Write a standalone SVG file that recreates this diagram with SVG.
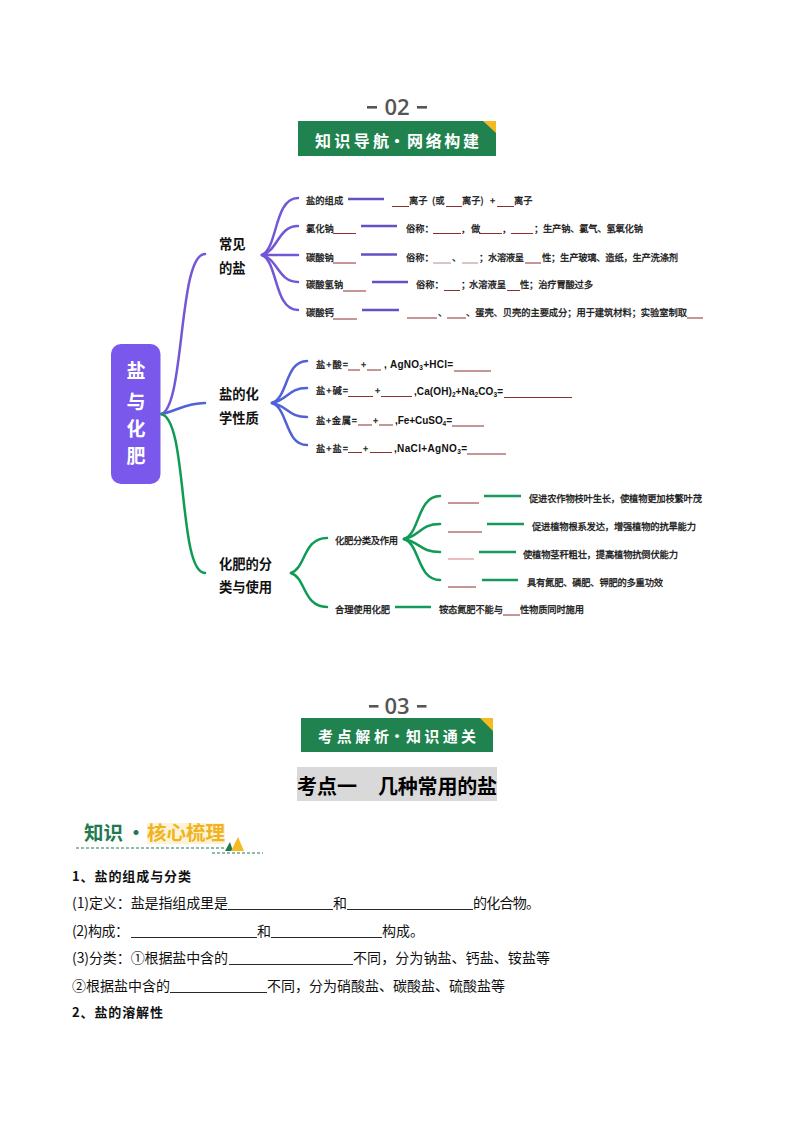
<svg xmlns="http://www.w3.org/2000/svg" width="794" height="1123" viewBox="0 0 794 1123">
<style>
text{font-family:"Noto Sans CJK SC","Liberation Sans",sans-serif;fill:#222}
.s{font-size:9.300px;fill:#111;stroke:#111;stroke-width:.28}
.f{font-family:"Liberation Sans","Noto Sans CJK SC",sans-serif;font-size:10px;font-weight:700;fill:#111}
.h{font-size:13.300px;font-weight:700;fill:#111}
.b{font-size:14px;fill:#111}
.bb{font-size:13px;font-weight:700;fill:#111}
.hd{font-size:16px;font-weight:700;fill:#fff}
.no{font-family:"Open Sans","Liberation Sans",sans-serif;font-size:22px;font-weight:600;fill:#555}
.u{stroke:#8b2f2f;stroke-width:1;fill:none}
.k{stroke:#111;stroke-width:.9;fill:none}
.pu{stroke:#7357d6;stroke-width:2.500;fill:none;stroke-linecap:round}
.bl{stroke:#4f62d8;stroke-width:2.500;fill:none;stroke-linecap:round}
.gr{stroke:#0f9a55;stroke-width:2.500;fill:none;stroke-linecap:round}
.ln1{stroke:#6650c8;stroke-width:2.600;fill:none}
.ln2{stroke:#169a5c;stroke-width:2.600;fill:none}
</style>

<g id="header-02">
<rect x="367" y="106" width="10" height="2.600" fill="#555"/>
<rect x="417" y="106" width="10" height="2.600" fill="#555"/>
<text class="no" x="397" y="114.500" text-anchor="middle">02</text>
<rect x="298" y="121" width="198" height="35" fill="#20824f"/>
<polygon points="483,121 496,121 496,133" fill="#f5b921"/>
<text class="hd" x="315" y="146.500" textLength="74">知识导航</text>
<text class="hd" x="397" y="146.500" text-anchor="middle">·</text>
<text class="hd" x="407" y="146.500" textLength="72">网络构建</text>
</g>

<g id="connectors">
<path class="pu" d="M161,414C185,408 178,254 205,254"/>
<path class="bl" d="M161,414C175,412 185,403 205,403"/>
<path class="gr" d="M161,414C188,418 178,573 205,573"/>
<path class="pu" d="M262,255C278,248 274,198 298,198"/>
<path class="pu" d="M262,255C278,251 278,226 298,226"/>
<path class="pu" d="M262,255H298"/>
<path class="pu" d="M262,255C278,259 278,282 298,282"/>
<path class="pu" d="M262,255C278,262 274,310 298,310"/>
<path class="bl" d="M272,403C288,398 285,361 307,361"/>
<path class="bl" d="M272,403C288,400 288,388 307,388"/>
<path class="bl" d="M272,403C288,406 288,417 307,417"/>
<path class="bl" d="M272,403C288,408 285,445 307,445"/>
<path class="gr" d="M291,573C306,568 303,538 327,538"/>
<path class="gr" d="M291,573C306,578 303,607 327,607"/>
<path class="gr" d="M404,539C420,534 417,496 440,496"/>
<path class="gr" d="M404,539C420,536 420,524 440,524"/>
<path class="gr" d="M404,539C420,542 420,552 440,552"/>
<path class="gr" d="M404,539C420,544 417,580 440,580"/>
<path class="ln1" d="M348,199H384M361,226H397M361,254.500H397M372,282H408M362,310H399"/>
<path class="ln2" d="M484,496H521M487,524H524M479,552H516M482,580H518M395,607H431"/>
</g>

<g id="root">
<rect x="111" y="344" width="49.500" height="140" rx="10" fill="#7a58ec"/>
<g font-size="19" font-weight="700" text-anchor="middle">
<text x="136" y="378" style="fill:#fff">盐</text>
<text x="136" y="409" style="fill:#fff">与</text>
<text x="136" y="436" style="fill:#fff">化</text>
<text x="136" y="463" style="fill:#fff">肥</text>
</g>
</g>

<g id="node-salts">
<text class="h" x="219" y="249">常见</text>
<text class="h" x="219" y="273">的盐</text>
</g>
<g id="salt-rows">
<text class="s" x="306" y="204">盐的组成</text>
<text class="s" x="409" y="204">离子</text>
<text class="s" x="432" y="204">(或</text>
<text class="s" x="462" y="204">离子)</text>
<text class="s" x="490" y="204">+</text>
<text class="s" x="514" y="204">离子</text>
<path class="u" d="M392,206.500H409M446,206.500H462M497,206.500H514"/>

<text class="s" x="306" y="232">氯化钠</text>
<text class="s" x="406" y="232">俗称：</text>
<text class="s" x="462" y="232">,</text>
<text class="s" x="471" y="232">做</text>
<text class="s" x="503" y="232">,</text>
<text class="s" x="534" y="232">；</text>
<text class="s" x="543" y="232" textLength="100">生产钠、氯气、氢氧化钠</text>
<path class="u" d="M333,233.500H356M433,233.500H461M479,233.500H502M511,233.500H533"/>

<text class="s" x="306" y="260.500">碳酸钠</text>
<text class="s" x="406" y="260.500">俗称：</text>
<text class="s" x="452" y="260.500">、</text>
<text class="s" x="479" y="260.500">；</text>
<text class="s" x="488" y="260.500" textLength="36">水溶液呈</text>
<text class="s" x="542" y="260.500" textLength="136">性；生产玻璃、造纸，生产洗涤剂</text>
<path class="u" d="M333,263H356M525,263H541"/>
<path d="M433,263H451M462,263H478" stroke="#b98a8a" fill="none"/>

<text class="s" x="306" y="288">碳酸氢钠</text>
<text class="s" x="416" y="288">俗称：</text>
<text class="s" x="461" y="288">；</text>
<text class="s" x="469" y="288" textLength="37">水溶液呈</text>
<text class="s" x="520" y="288" textLength="73">性；治疗胃酸过多</text>
<path class="u" d="M343,291H366M444,290.500H460M507,290.500H520"/>

<text class="s" x="306" y="316">碳酸钙</text>
<text class="s" x="438" y="316">、</text>
<text class="s" x="466" y="316" textLength="221">、蛋壳、贝壳的主要成分；用于建筑材料；实验室制取</text>
<path class="u" d="M333,319H357M407,318H437M447,318H466M687,318H703"/>
</g>

<g id="node-properties">
<text class="h" x="219" y="399">盐的化</text>
<text class="h" x="219" y="423">学性质</text>
</g>
<g id="property-rows">
<text class="s" x="316" y="367.500" textLength="32">盐+酸=</text>
<text class="s" x="361" y="367.500">+</text>
<text class="f" x="384" y="367.500">,</text>
<text class="f" x="390" y="368" textLength="63">AgNO<tspan font-size="6.500" dy="2">3</tspan><tspan dy="-2">+HCl=</tspan></text>
<path class="u" d="M348,370H360M367,370H381M454,371H491"/>

<text class="s" x="316" y="394" textLength="32">盐+碱=</text>
<text class="s" x="375" y="394">+</text>
<text class="f" x="414" y="394.500" textLength="89">,Ca(OH)<tspan font-size="6.500" dy="2">2</tspan><tspan dy="-2">+Na</tspan><tspan font-size="6.500" dy="2">2</tspan><tspan dy="-2">CO</tspan><tspan font-size="6.500" dy="2">3</tspan><tspan dy="-2">=</tspan></text>
<path class="u" d="M348,396.500H373M381,396.500H412M504,397.500H572"/>

<text class="s" x="316" y="423.500" textLength="41">盐+金属=</text>
<text class="s" x="373" y="423.500">+</text>
<text class="f" x="395" y="423.500" textLength="57">,Fe+CuSO<tspan font-size="6.500" dy="2">4</tspan><tspan dy="-2">=</tspan></text>
<path class="u" d="M358,425H372M379,425H393M452,426H484"/>

<text class="s" x="316" y="451.500" textLength="32">盐+盐=</text>
<text class="s" x="363" y="451.500">+</text>
<text class="f" x="394" y="451.500" textLength="73">,NaCl+AgNO<tspan font-size="6.500" dy="2">3</tspan><tspan dy="-2">=</tspan></text>
<path class="u" d="M348,452.500H362M370,452.500H392M467,454H506"/>
</g>

<g id="node-fertilizer">
<text class="h" x="219" y="569" textLength="53">化肥的分</text>
<text class="h" x="219" y="592" textLength="53">类与使用</text>
</g>
<g id="fertilizer-rows">
<text class="s" x="335" y="543.500" textLength="63">化肥分类及作用</text>
<text class="s" x="335" y="612.500" textLength="55">合理使用化肥</text>
<text class="s" x="439" y="612.500" textLength="64">铵态氮肥不能与</text>
<text class="s" x="520" y="612.500" textLength="64">性物质同时施用</text>
<path class="u" d="M503,615H520"/>
<path class="u" d="M448,503H479M448,532H482M448,587H476"/>
<path d="M448,559H474" stroke="#d87b7b" fill="none"/>
<text class="s" x="529" y="501.500" textLength="173">促进农作物枝叶生长，使植物更加枝繁叶茂</text>
<text class="s" x="532" y="529.500" textLength="164">促进植物根系发达，增强植物的抗旱能力</text>
<text class="s" x="523" y="557.500" textLength="155">使植物茎秆粗壮，提高植物抗倒伏能力</text>
<text class="s" x="527" y="585.500" textLength="136">具有氮肥、磷肥、钾肥的多重功效</text>
</g>

<g id="header-03">
<rect x="369" y="705" width="9.500" height="2.600" fill="#555"/>
<rect x="417" y="705" width="9.500" height="2.600" fill="#555"/>
<text class="no" x="397" y="713.500" text-anchor="middle">03</text>
<rect x="301" y="718" width="192" height="34" fill="#20824f"/>
<polygon points="480,718 493,718 493,731" fill="#f5b921"/>
<text class="hd" style="font-size:15px" x="318" y="741.500" textLength="71">考点解析</text>
<text class="hd" style="font-size:15px" x="397" y="741.500" text-anchor="middle">·</text>
<text class="hd" style="font-size:15px" x="406" y="741.500" textLength="70">知识通关</text>
</g>

<g id="title">
<rect x="297" y="767" width="200" height="34" fill="#d9d9d9"/>
<text x="297" y="793.500" font-size="20" font-weight="700" style="fill:#000" textLength="60">考点一</text>
<text x="378" y="793.500" font-size="20" font-weight="700" style="fill:#000" textLength="119">几种常用的盐</text>
</g>

<g id="section-tag">
<text x="84" y="840" font-size="19.500" font-weight="700" style="fill:#1f7a4d" textLength="39">知识</text>
<text x="136" y="840" font-size="19.500" font-weight="700" style="fill:#1f7a4d" text-anchor="middle">·</text>
<rect x="147" y="823" width="78" height="21" fill="#fdf3d6"/>
<text x="147" y="840" font-size="19.500" font-weight="700" style="fill:#f0b31e" textLength="78">核心梳理</text>
<path d="M76,848H225M212,853H263" stroke="#1f7a4d" stroke-dasharray="3 2" fill="none"/>
<polygon points="225,851 230,842 233,851" fill="#1f7a4d"/>
<polygon points="231,851 238,837 244,851" fill="#f5b921"/>
</g>

<g id="body">
<text class="bb" x="72" y="881" textLength="119">1、盐的组成与分类</text>
<text class="b" x="72" y="908" textLength="156">(1)定义：盐是指组成里是</text>
<text class="b" x="333" y="908">和</text>
<text class="b" x="473" y="908" textLength="67">的化合物。</text>
<path class="k" d="M228,909.500H333M347,909.500H473"/>
<text class="b" x="72" y="936" textLength="57">(2)构成：</text>
<text class="b" x="257" y="936">和</text>
<text class="b" x="382" y="936" textLength="42">构成。</text>
<path class="k" d="M131,937.500H257M271,937.500H382"/>
<text class="b" x="72" y="963" textLength="156">(3)分类：①根据盐中含的</text>
<text class="b" x="353" y="963" textLength="197">不同，分为钠盐、钙盐、铵盐等</text>
<path class="k" d="M229,964.500H353"/>
<text class="b" x="72" y="991" textLength="98">②根据盐中含的</text>
<text class="b" x="267" y="991" textLength="238">不同，分为硝酸盐、碳酸盐、硫酸盐等</text>
<path class="k" d="M170,992.500H267"/>
<text class="bb" x="72" y="1017" textLength="91">2、盐的溶解性</text>
</g>
</svg>
